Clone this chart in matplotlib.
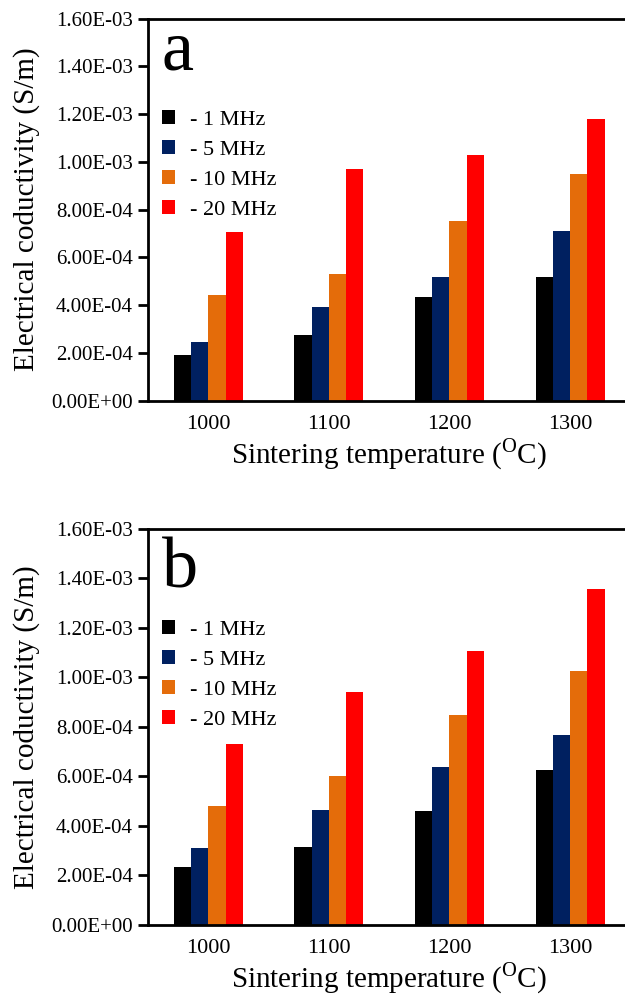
import matplotlib
matplotlib.use("Agg")
from matplotlib import pyplot as plt
from matplotlib.patches import Patch
from matplotlib.ticker import FuncFormatter, MultipleLocator
import numpy

# data
temperatures = ["1000", "1100", "1200", "1300"]
frequencies = ["1 MHz", "5 MHz", "10 MHz", "20 MHz"]
colors = ["#000000", "#002060", "#E46C0A", "#FF0000"]

# panel a: rows = frequency, cols = temperature
cond_a = [
    [1.93e-4, 2.74e-4, 4.36e-4, 5.20e-4],
    [2.45e-4, 3.94e-4, 5.17e-4, 7.12e-4],
    [4.42e-4, 5.30e-4, 7.51e-4, 9.51e-4],
    [7.06e-4, 9.72e-4, 1.027e-3, 1.180e-3],
]
# panel b
cond_b = [
    [2.33e-4, 3.13e-4, 4.59e-4, 6.24e-4],
    [3.10e-4, 4.64e-4, 6.36e-4, 7.68e-4],
    [4.80e-4, 6.01e-4, 8.46e-4, 1.026e-3],
    [7.30e-4, 9.41e-4, 1.105e-3, 1.359e-3],
]

plt.rcParams['font.family'] = ['Liberation Serif', 'DejaVu Serif']
plt.rcParams['mathtext.fontset'] = 'custom'
plt.rcParams['mathtext.rm'] = 'Liberation Serif'

fig = plt.figure(figsize=(6.25, 9.97), dpi=100)
ax_a = fig.add_axes([0.2368, 0.5981, 0.7718, 0.3832])
ax_b = fig.add_axes([0.2368, 0.0725, 0.7718, 0.3969])

bw = 0.143
x = numpy.arange(len(temperatures))


def draw(ax, data, letter, letter_y, leg_top):
    for i, (vals, col) in enumerate(zip(data, colors)):
        ax.bar(x + (i - 1.5) * bw, vals, width=bw, color=col, linewidth=0)
    ax.set_xlim(-0.5, 3.5)
    ax.set_ylim(0, 1.6e-3)
    ax.yaxis.set_major_locator(MultipleLocator(2e-4))
    ax.yaxis.set_major_formatter(FuncFormatter(lambda v, p: f"{v:.2E}"))
    ax.set_xticks(x)
    ax.set_xticklabels(temperatures)
    ax.tick_params(axis='x', length=0, pad=10, labelsize=16)
    ax.tick_params(axis='y', length=7, width=2, direction='out', labelsize=15, pad=4)
    for s in ax.spines.values():
        s.set_linewidth(2)
    ax.set_xlabel(r"Sintering temperature ($^{\mathrm{O}}$C)", fontsize=21, labelpad=2)
    ax.set_ylabel("Electrical coductivity (S/m)", fontsize=21, labelpad=8)
    ax.text(0.028, letter_y, letter, transform=ax.transAxes, fontsize=52, va='baseline')
    handles = [Patch(facecolor=c, edgecolor='none') for c in colors]
    ax.legend(handles, ["- " + f for f in frequencies], loc='upper left',
              bbox_to_anchor=(0.028, leg_top), frameon=False, fontsize=16,
              handlelength=0.6, handleheight=0.6, handletextpad=0.7,
              labelspacing=0.45, borderpad=0, borderaxespad=0)


draw(ax_a, cond_a, "a", 0.866, 0.76)
draw(ax_b, cond_b, "b", 0.851, 0.77)

fig.savefig("out.png", dpi=100)
plt.close()
